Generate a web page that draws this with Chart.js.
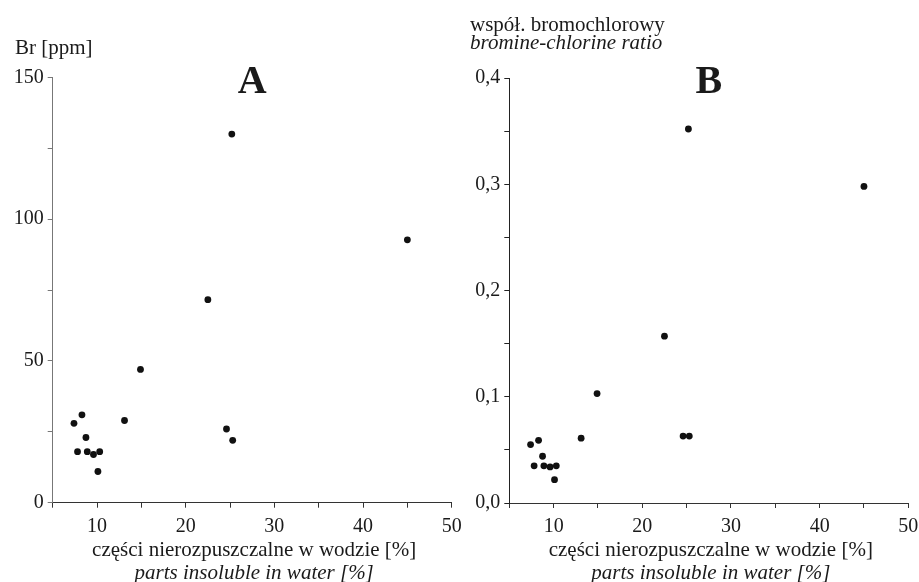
<!DOCTYPE html>
<html>
<head>
<meta charset="utf-8">
<script src="https://cdn.jsdelivr.net/npm/chart.js@4.4.0/dist/chart.umd.min.js"></script>
<style>
  html, body { margin: 0; background: #fff; overflow: hidden; }
  #wrap { position: relative; width: 919px; height: 582px; overflow: hidden; }
  canvas { position: absolute; top: 0; }
</style>
</head>
<body>
<div id="wrap">
  <canvas id="chartA" width="475" height="582" style="left:0px"></canvas>
  <canvas id="chartB" width="480" height="582" style="left:455px"></canvas>
</div>
<script>
// parts insoluble in water [%] - same samples in both panels
var insoluble = [7.4, 8.3, 8.75, 7.8, 8.9, 9.6, 10.3, 10.1, 13.1, 14.9, 22.5, 24.6, 25.3, 25.2, 45.0];
// panel A: Br [ppm]
var bromine = [28, 31, 23, 18, 18, 17, 18, 11, 29, 47, 71.6, 26, 22, 130, 92.7];
// panel B: bromine-chlorine ratio
var brClRatio = [0.055, 0.059, 0.044, 0.035, 0.035, 0.034, 0.035, 0.022, 0.061, 0.103, 0.157, 0.063, 0.063, 0.352, 0.298];

// tick labels
var xLabels = [10, 20, 30, 40, 50];
var yLabelsA = [0, 50, 100, 150];
var yLabelsB = ['0,0', '0,1', '0,2', '0,3', '0,4'];

var serif = 'Liberation Serif';

function points(xs, ys) {
  var out = [];
  for (var i = 0; i < xs.length; i++) out.push({ x: xs[i], y: ys[i] });
  return out;
}

// draws panel letter and axis titles
function textPlugin(cfg) {
  return {
    id: 'texts',
    afterDraw: function (chart) {
      var c = chart.ctx, a = chart.chartArea;
      var cx = (a.left + a.right) / 2;
      c.save();
      c.fillStyle = '#1a1a1a';
      c.textBaseline = 'middle';
      c.textAlign = 'center';
      c.font = 'bold 40px "' + serif + '"';
      c.fillText(cfg.letter, cx, 83);
      c.font = '21px "' + serif + '"';
      c.fillText('części nierozpuszczalne w wodzie [%]', cx + 2, 550);
      c.font = 'italic 21px "' + serif + '"';
      c.fillText('parts insoluble in water [%]', cx + 2, 573);
      c.textAlign = 'left';
      for (var i = 0; i < cfg.yTitle.length; i++) {
        var t = cfg.yTitle[i];
        c.font = (t.italic ? 'italic ' : '') + '21px "' + serif + '"';
        c.fillText(t.text, 15, t.y);
      }
      c.restore();
    }
  };
}

function makeChart(id, data, yMax, yStep, yLabel, yAxisW, padTop, padRight, xH, yBorder, letter, yTitle) {
  return new Chart(document.getElementById(id), {
    type: 'scatter',
    data: {
      datasets: [{
        data: data,
        backgroundColor: '#111',
        borderWidth: 0,
        pointRadius: 3.4
      }]
    },
    options: {
      responsive: false,
      animation: false,
      layout: { padding: { top: padTop, right: padRight, left: 0, bottom: 0 } },
      plugins: { legend: { display: false }, tooltip: { enabled: false } },
      scales: {
        x: {
          type: 'linear',
          min: 5, max: 50,
          afterFit: function (s) { s.height = xH; },
          border: { display: true, color: '#333', width: 1 },
          grid: { drawOnChartArea: false, drawTicks: true, tickLength: 5, color: '#333' },
          ticks: {
            stepSize: 5, autoSkip: false, maxRotation: 0, padding: 7,
            color: '#1a1a1a', font: { family: serif, size: 20 },
            callback: function (v) { return xLabels.indexOf(Math.round(v)) >= 0 && Math.abs(v - Math.round(v)) < 1e-6 ? String(Math.round(v)) : ''; }
          }
        },
        y: {
          type: 'linear',
          min: 0, max: yMax,
          afterFit: function (s) { s.width = yAxisW; },
          border: { display: true, color: yBorder, width: 1 },
          grid: { drawOnChartArea: false, drawTicks: true, tickLength: 5, color: yBorder },
          ticks: {
            stepSize: yStep, autoSkip: false, padding: 4,
            color: '#1a1a1a', font: { family: serif, size: 20 },
            callback: yLabel
          }
        }
      }
    },
    plugins: [textPlugin({ letter: letter, yTitle: yTitle })]
  });
}

makeChart('chartA', points(insoluble, bromine), 150, 25,
  function (v) { return yLabelsA.indexOf(v) >= 0 ? String(v) : ''; },
  52.7, 77.4, 23.3, 79.3, '#777', 'A',
  [{ text: 'Br [ppm]', y: 48 }]);

makeChart('chartB', points(insoluble, brClRatio), 0.4, 0.05,
  function (v) {
    var k = Math.round(v * 100);
    return k % 10 === 0 ? yLabelsB[k / 10] : '';
  },
  54.3, 78, 26.7, 79, '#222', 'B',
  [{ text: 'współ. bromochlorowy', y: 25 }, { text: 'bromine-chlorine ratio', y: 43, italic: true }]);
</script>
</body>
</html>
